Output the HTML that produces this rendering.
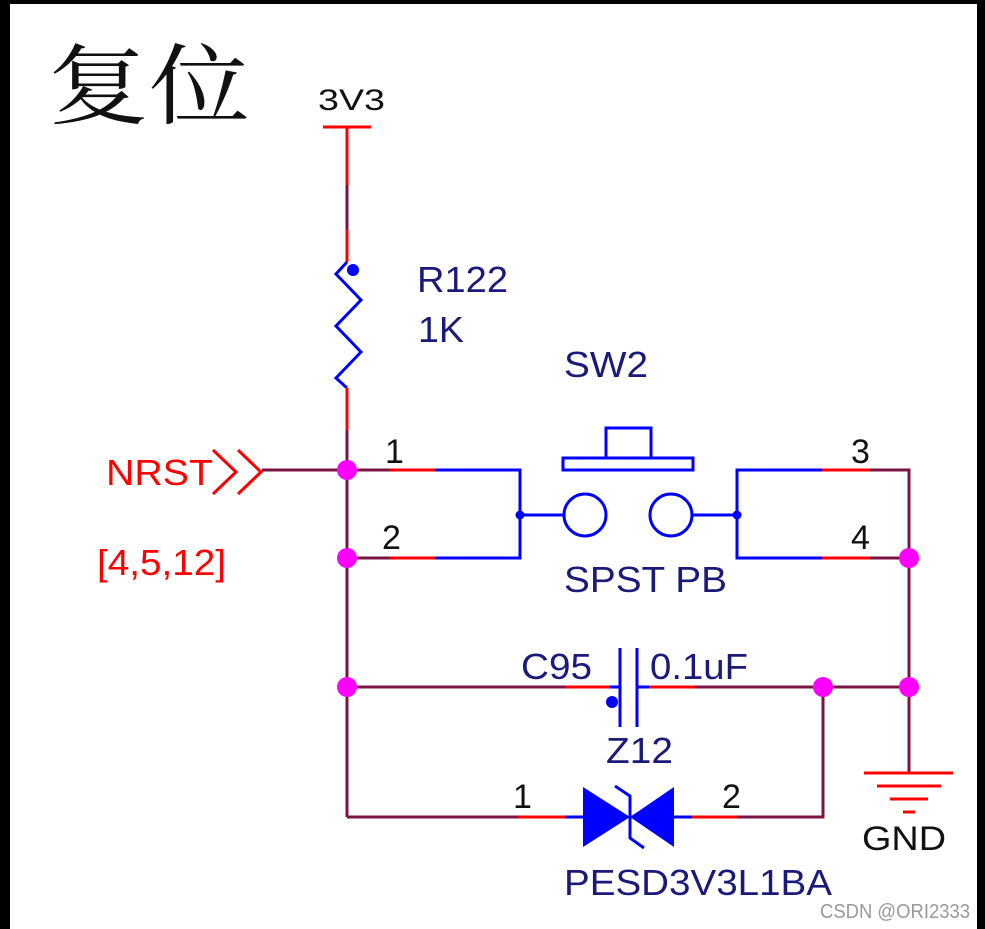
<!DOCTYPE html>
<html><head><meta charset="utf-8"><style>
html,body{margin:0;padding:0;background:#fff}
svg{display:block}
text{font-family:"Liberation Sans",sans-serif}
</style></head><body>
<svg width="985" height="929" viewBox="0 0 985 929" xmlns="http://www.w3.org/2000/svg">
<rect x="0" y="0" width="985" height="929" fill="#fff"/>
<rect x="0" y="0" width="985" height="4" fill="#000"/>
<rect x="0" y="0" width="10" height="929" fill="#000"/>
<rect x="977" y="0" width="8" height="929" fill="#000"/>
<text x="48" y="117" font-size="88" fill="#111" textLength="202" lengthAdjust="spacingAndGlyphs" style="font-family:'Noto Serif CJK SC','Noto Sans CJK SC',serif">复位</text>
<text x="318" y="110" font-size="30" fill="#111" textLength="67" lengthAdjust="spacingAndGlyphs">3V3</text>
<g stroke-width="3" fill="none">
<line x1="323" y1="127" x2="371" y2="127" stroke="#f00"/>
<line x1="347" y1="127" x2="347" y2="185" stroke="#f00"/>
<line x1="347" y1="185" x2="347" y2="230" stroke="#7a1444"/>
<line x1="347" y1="230" x2="347" y2="262" stroke="#f00"/>
<polyline points="347,262 336,274 361,300 336,326 361,352 336,378 347,388" stroke="#00f"/>
<line x1="347" y1="388" x2="347" y2="430" stroke="#f00"/>
<line x1="347" y1="430" x2="347" y2="817" stroke="#7a1444"/>
<line x1="262" y1="470" x2="347" y2="470" stroke="#7a1444"/>
<polyline points="213,450 236,472 213,494" stroke="#f00"/>
<polyline points="238,450 261,472 238,494" stroke="#f00"/>
<line x1="347" y1="470" x2="390" y2="470" stroke="#7a1444"/>
<line x1="390" y1="470" x2="435" y2="470" stroke="#f00"/>
<polyline points="435,470 520,470 520,558 435,558" stroke="#00f"/>
<line x1="347" y1="558" x2="390" y2="558" stroke="#7a1444"/>
<line x1="390" y1="558" x2="435" y2="558" stroke="#f00"/>
<line x1="520" y1="515" x2="563" y2="515" stroke="#00f"/>
<circle cx="585" cy="515" r="21" stroke="#00f"/>
<circle cx="671" cy="515" r="21" stroke="#00f"/>
<line x1="692" y1="515" x2="737" y2="515" stroke="#00f"/>
<rect x="563" y="458" width="130" height="12" stroke="#00f"/>
<rect x="606" y="428" width="45" height="30" stroke="#00f"/>
<polyline points="822,470 737,470 737,558 822,558" stroke="#00f"/>
<line x1="822" y1="470" x2="870" y2="470" stroke="#f00"/>
<line x1="822" y1="558" x2="870" y2="558" stroke="#f00"/>
<polyline points="870,470 909,470 909,772" stroke="#7a1444"/>
<line x1="870" y1="558" x2="909" y2="558" stroke="#7a1444"/>
<line x1="347" y1="687" x2="565" y2="687" stroke="#7a1444"/>
<line x1="565" y1="687" x2="610" y2="687" stroke="#f00"/>
<line x1="610" y1="687" x2="620" y2="687" stroke="#00f"/>
<line x1="620" y1="648" x2="620" y2="727" stroke="#00f"/>
<line x1="637" y1="648" x2="637" y2="727" stroke="#00f"/>
<line x1="637" y1="687" x2="649" y2="687" stroke="#00f"/>
<line x1="649" y1="687" x2="695" y2="687" stroke="#f00"/>
<line x1="695" y1="687" x2="909" y2="687" stroke="#7a1444"/>
<polyline points="347,817 518,817" stroke="#7a1444"/>
<line x1="518" y1="817" x2="565" y2="817" stroke="#f00"/>
<line x1="565" y1="817" x2="585" y2="817" stroke="#00f"/>
<line x1="673" y1="817" x2="692" y2="817" stroke="#00f"/>
<line x1="692" y1="817" x2="738" y2="817" stroke="#f00"/>
<polyline points="738,817 823,817 823,687" stroke="#7a1444"/>
<polyline points="615,786 630,796 630,838 644,848" stroke="#00f"/>
<line x1="864" y1="773" x2="953" y2="773" stroke="#f00"/>
<line x1="877" y1="786" x2="941" y2="786" stroke="#f00"/>
<line x1="890" y1="799" x2="928" y2="799" stroke="#f00"/>
<line x1="903" y1="812" x2="915" y2="812" stroke="#f00"/>
</g>
<polygon points="583,787 630,817 583,847" fill="#00f"/>
<polygon points="674,787 630,817 674,847" fill="#00f"/>
<circle cx="353" cy="270" r="6" fill="#00f"/>
<circle cx="520" cy="515" r="4.5" fill="#00f"/>
<circle cx="737" cy="515" r="4.5" fill="#00f"/>
<circle cx="612" cy="702" r="6" fill="#00f"/>
<g fill="#f0f">
<circle cx="347" cy="470" r="10"/><circle cx="347" cy="558" r="10"/><circle cx="347" cy="687" r="10"/>
<circle cx="823" cy="687" r="10"/><circle cx="909" cy="687" r="10"/><circle cx="909" cy="558" r="10"/>
</g>
<g font-size="36" fill="#1a1a7a" lengthAdjust="spacingAndGlyphs">
<text x="417" y="292" textLength="91" lengthAdjust="spacingAndGlyphs">R122</text>
<text x="418" y="342" textLength="46" lengthAdjust="spacingAndGlyphs">1K</text>
<text x="564" y="377" textLength="84" lengthAdjust="spacingAndGlyphs">SW2</text>
<text x="564" y="592" textLength="163" lengthAdjust="spacingAndGlyphs">SPST PB</text>
<text x="521" y="679" textLength="71" lengthAdjust="spacingAndGlyphs">C95</text>
<text x="650" y="679" textLength="98" lengthAdjust="spacingAndGlyphs">0.1uF</text>
<text x="606" y="763" textLength="67" lengthAdjust="spacingAndGlyphs">Z12</text>
<text x="564" y="895" textLength="268" lengthAdjust="spacingAndGlyphs">PESD3V3L1BA</text>
</g>
<g font-size="34" fill="#111">
<text x="385" y="463">1</text>
<text x="382" y="549">2</text>
<text x="851" y="463">3</text>
<text x="851" y="549">4</text>
<text x="513" y="808">1</text>
<text x="722" y="808">2</text>
<text x="862" y="850" textLength="84" lengthAdjust="spacingAndGlyphs">GND</text>
</g>
<text x="106" y="485" font-size="36" fill="#f00" textLength="107" lengthAdjust="spacingAndGlyphs">NRST</text>
<text x="97" y="575" font-size="36" fill="#f00" textLength="129" lengthAdjust="spacingAndGlyphs">[4,5,12]</text>
<text x="820" y="918" font-size="20" fill="#999" textLength="150" lengthAdjust="spacingAndGlyphs">CSDN @ORI2333</text>
</svg>
</body></html>
